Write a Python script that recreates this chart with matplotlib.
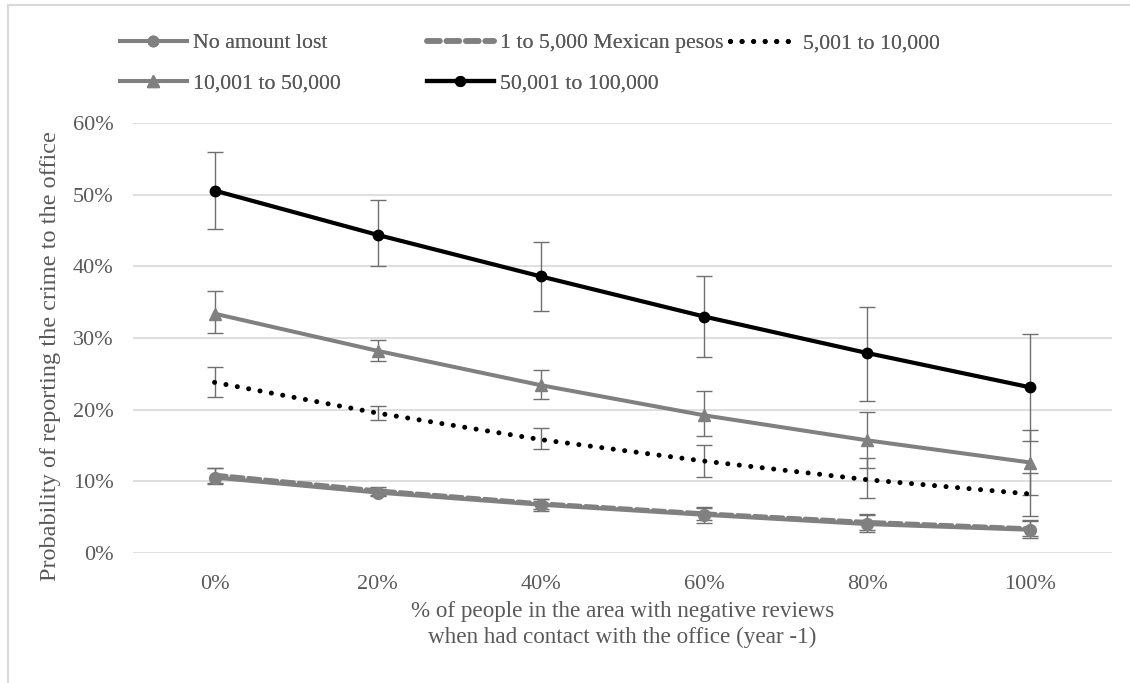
import matplotlib
matplotlib.use('Agg')
import matplotlib.pyplot as plt
from matplotlib.lines import Line2D
from matplotlib.ticker import PercentFormatter
import numpy as np

plt.rcParams['font.family'] = ['Liberation Serif', 'DejaVu Serif']

categories = ['0%', '20%', '40%', '60%', '80%', '100%']

# probabilities (%) and error bar ends (%)
no_loss = [10.5, 8.4, 6.7, 5.3, 4.0, 3.2]
no_loss_lo = [9.6, 7.9, 5.8, 4.2, 2.9, 2.0]
no_loss_hi = [11.9, 8.9, 7.5, 6.4, 5.4, 4.5]

pesos_5k = [10.9, 8.7, 6.9, 5.5, 4.3, 3.4]
pesos_5k_lo = [9.8, 8.0, 6.1, 4.5, 3.2, 2.3]
pesos_5k_hi = [11.8, 9.2, 7.5, 6.3, 5.3, 4.4]

pesos_10k = [23.8, 19.5, 15.8, 12.8, 10.2, 8.2]
pesos_10k_lo = [21.8, 18.6, 14.5, 10.6, 7.6, 5.1]
pesos_10k_hi = [25.9, 20.5, 17.4, 15.1, 13.2, 11.2]

pesos_50k = [33.4, 28.2, 23.4, 19.2, 15.7, 12.6]
pesos_50k_lo = [30.7, 26.8, 21.5, 16.3, 11.8, 8.1]
pesos_50k_hi = [36.5, 29.7, 25.5, 22.6, 19.7, 17.1]

pesos_100k = [50.6, 44.4, 38.6, 33.0, 27.9, 23.1]
pesos_100k_lo = [45.2, 40.0, 33.8, 27.3, 21.2, 15.6]
pesos_100k_hi = [56.0, 49.3, 43.4, 38.7, 34.4, 30.6]

labels = ['No amount lost', '1 to 5,000 Mexican pesos', '5,001 to 10,000',
          '10,001 to 50,000', '50,001 to 100,000']

GRAY = '#808080'
TXT = '#595959'
ERR = '#6f6f6f'

fig = plt.figure(figsize=(11.3, 6.83), dpi=100)
ax = fig.add_axes([133 / 1130, 1 - 552.7 / 683, (1112 - 133) / 1130, (552.7 - 123.3) / 683])

x = np.arange(len(categories))

series = [
    (no_loss, no_loss_lo, no_loss_hi, dict(color=GRAY, lw=2.9, marker='o', ms=8.5)),
    (pesos_5k, pesos_5k_lo, pesos_5k_hi, dict(color=GRAY, lw=2.9, linestyle=(0, (3, 1.2)),
                                               dash_capstyle='round')),
    (pesos_10k, pesos_10k_lo, pesos_10k_hi, dict(color='black', lw=3.6, linestyle=(0, (0.01, 2.3)),
                                                 dash_capstyle='round')),
    (pesos_50k, pesos_50k_lo, pesos_50k_hi, dict(color=GRAY, lw=2.9, marker='^', ms=9)),
    (pesos_100k, pesos_100k_lo, pesos_100k_hi, dict(color='black', lw=3.0, marker='o', ms=7.5)),
]

for i, (vals, lo, hi, style) in enumerate(series):
    vals = np.array(vals)
    yerr = [vals - np.array(lo), np.array(hi) - vals]
    ax.errorbar(x, vals, yerr=yerr, fmt='none', ecolor=ERR, elinewidth=1.0,
                capsize=5.5, capthick=1.0, zorder=2 + i * 0.1)
    ax.plot(x, vals, zorder=3 + i * 0.1, **style)

ax.set_xlim(-0.5, 5.5)
ax.set_ylim(0, 60)
ax.set_yticks(np.arange(0, 61, 10))
ax.yaxis.set_major_formatter(PercentFormatter(decimals=0))
ax.set_xticks(x)
ax.set_xticklabels(categories)
ax.grid(axis='y', color='#d9d9d9', linewidth=1.2)
ax.set_axisbelow(True)
for s in ax.spines.values():
    s.set_visible(False)
ax.tick_params(length=0, labelsize=16, colors=TXT)
ax.tick_params(axis='y', pad=14)
ax.tick_params(axis='x', pad=16)

ax.set_xlabel('% of people in the area with negative reviews\nwhen had contact with the office (year -1)',
              fontsize=16.7, color=TXT, labelpad=5, linespacing=1.3)
ax.set_ylabel('Probability of reporting the crime to the office', fontsize=17.5, color=TXT)
ax.yaxis.set_label_coords(-0.074, 0.458)

# legend handles
h = [
    Line2D([], [], color=GRAY, lw=2.9, marker='o', ms=7.5),
    Line2D([], [], color=GRAY, lw=4, linestyle=(0, (2.3, 1.2)), dash_capstyle='round'),
    Line2D([], [], color='black', lw=3.6, linestyle=(0, (0.01, 2.3)), dash_capstyle='round'),
    Line2D([], [], color=GRAY, lw=2.9, marker='^', ms=8),
    Line2D([], [], color='black', lw=3.0, marker='o', ms=7),
]
groups = [([0, 3], 120), ([1, 4], 427), ([2], 730)]
for idx, xpix in groups:
    leg = fig.legend([h[k] for k in idx], [labels[k] for k in idx],
                     loc='upper left', bbox_to_anchor=(xpix / 1130, 1 - 33 / 683),
                     frameon=False, fontsize=15.7, handlelength=3.05, handletextpad=0.28,
                     borderpad=0, borderaxespad=0, labelspacing=0.9, labelcolor=TXT)
    fig.add_artist(leg)

# light frame around the chart area
fig.add_artist(Line2D([7.5 / 1130, 7.5 / 1130], [0, 1 - 5 / 683], color='#d9d9d9', lw=1.5,
                      transform=fig.transFigure))
fig.add_artist(Line2D([7.5 / 1130, 1], [1 - 5 / 683, 1 - 5 / 683], color='#d9d9d9', lw=1.5,
                      transform=fig.transFigure))

fig.savefig('out.png', dpi=100, facecolor='white')
